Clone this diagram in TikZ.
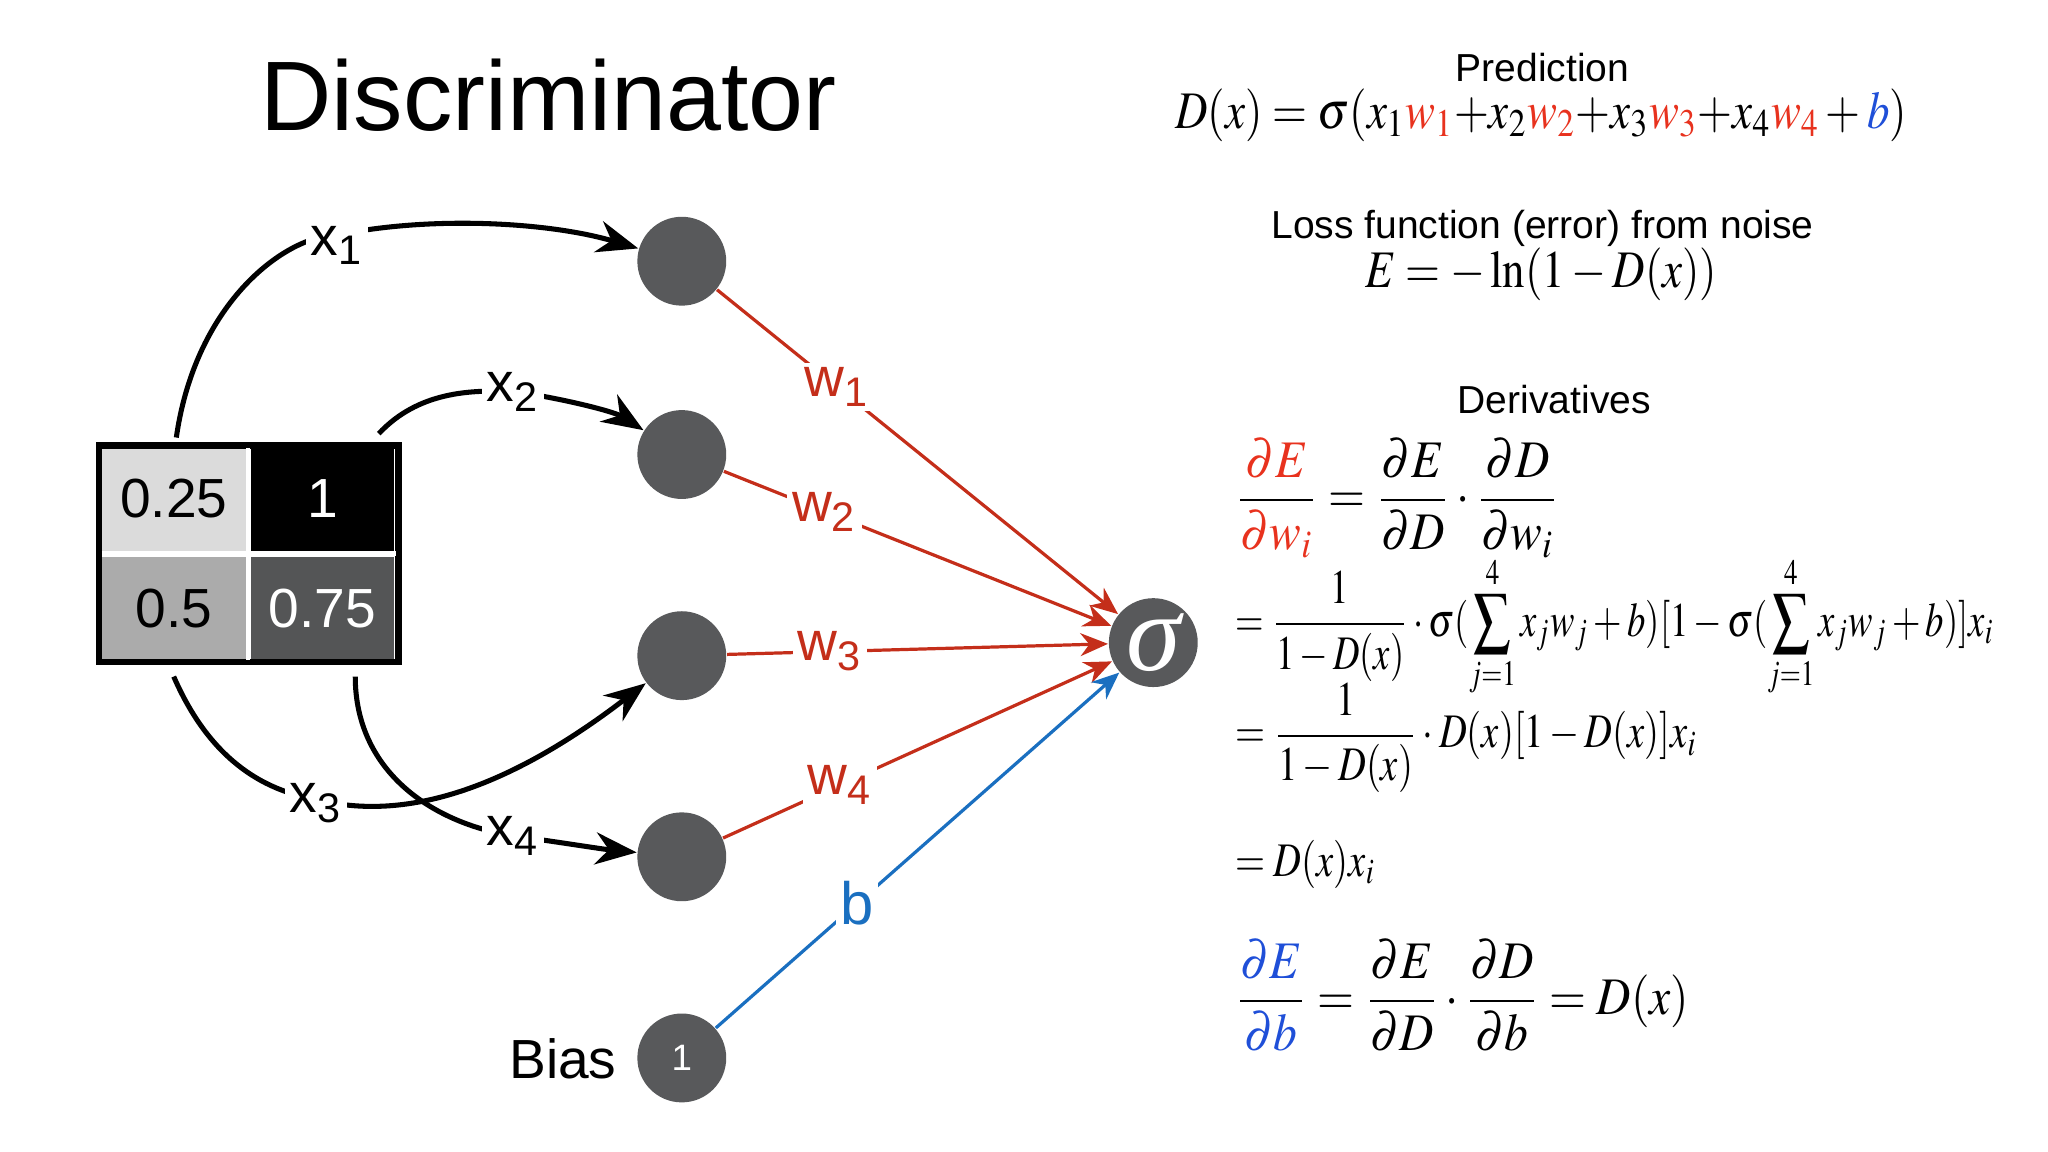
\documentclass[tikz,border=0pt]{standalone}
\usepackage{amsmath}
\usepackage{graphicx}
\usepackage{mathptmx}
\usepackage[no-math]{fontspec}
\setmainfont{Liberation Sans}
\newfontfamily\serifit{Liberation Serif}
\usetikzlibrary{arrows.meta}
\definecolor{nodegray}{HTML}{58595B}
\definecolor{wred}{HTML}{C42E1A}
\definecolor{ered}{HTML}{E8321E}
\definecolor{bblue}{HTML}{1A6FC0}
\definecolor{eblue}{HTML}{1F4FD8}
\newcommand{\cond}[2][0.85]{\scalebox{#1}[1]{#2}}
\begin{document}
\begin{tikzpicture}[x=0.01cm,y=-0.01cm,
  neuron/.style={circle,fill=nodegray,minimum size=0.68cm,inner sep=0pt,text=white},
  cell/.style={minimum width=1.1cm,minimum height=0.79cm,inner sep=0pt,font=\fontsize{12}{14}\selectfont},
  inlab/.style={fill=white,inner sep=1pt,font=\fontsize{12}{14}\selectfont},
  wlab/.style={fill=white,inner sep=1pt,text=wred,font=\fontsize{12}{14}\selectfont},
  xarr/.style={line width=1.1pt,-{Stealth[length=9pt,width=7pt]}},
  warr/.style={wred,line width=0.7pt,-{Stealth[length=6pt,width=5pt]}},
  eq/.style={font=\fontsize{11.5}{13}\selectfont,anchor=west,inner sep=0pt},
  eqs/.style={font=\fontsize{10.5}{12}\selectfont,anchor=west,inner sep=0pt}]
\useasboundingbox (0,0) rectangle (1568,882);
% title
\node (title) at (420,73) {\fontsize{21.5}{24}\selectfont Discriminator};
% grid
\node[cell,fill=black!14] (c1) at (133,382) {0.25};
\node[cell,fill=black,text=white] (c2) at (247,382) {1};
\node[cell,fill=black!33] (c3) at (133,466) {0.5};
\node[cell,fill=nodegray!95!black,text=white] (c4) at (247,466) {0.75};
\draw[line width=1.4pt] (76,341) rectangle (305,507);
\draw[white,line width=1pt] (190,343) -- (190,505) (78,424) -- (303,424);
% neurons
\node[neuron] (n1) at (522,200) {};
\node[neuron] (n2) at (522,348) {};
\node[neuron] (n3) at (522,502) {};
\node[neuron] (n4) at (522,656) {};
\node[neuron,font=\fontsize{8}{9}\selectfont] (bias) at (522,810) {1};
\node[neuron,font=\fontsize{24}{24}\serifit\itshape] (sig) at (883,492) {σ};
\node[font=\fontsize{12}{14}\selectfont] (biaslab) at (431,811) {Bias};
% input curves
\coordinate (s1) at (135,335);
\coordinate (s2) at (290,332);
\coordinate (s3) at (133,518);
\coordinate (s4) at (272,518);
\draw[xarr] (s1) .. controls (150,230) and (220,180) .. (258,180) .. controls (330,165) and (420,170) .. (n1);
\node[inlab] at (258,188) {x\textsubscript{1}};
\draw[xarr] (s2) .. controls (320,300) and (360,298) .. (395,300) .. controls (430,305) and (470,315) .. (n2);
\node[inlab] at (393,300) {x\textsubscript{2}};
\draw[xarr] (s3) .. controls (160,580) and (200,605) .. (242,612) .. controls (330,635) and (420,580) .. (n3);
\node[inlab] at (242,615) {x\textsubscript{3}};
\draw[xarr] (s4) .. controls (272,590) and (330,630) .. (393,640) .. controls (430,645) and (460,650) .. (n4);
\node[inlab] at (393,640) {x\textsubscript{4}};
% weights
\draw[warr] (n1) -- (sig) node[wlab,pos=0.3] {w\textsubscript{1}};
\draw[warr] (n2) -- (sig) node[wlab,pos=0.26] {w\textsubscript{2}};
\draw[warr] (n3) -- (sig) node[wlab,pos=0.27] {w\textsubscript{3}};
\draw[warr] (n4) -- (sig) node[wlab,pos=0.3] {w\textsubscript{4}};
\draw[bblue,line width=0.7pt,-{Stealth[length=6pt,width=5pt]}] (bias) -- (sig) node[pos=0.35,fill=white,inner sep=1pt,text=bblue,font=\fontsize{13}{15}\selectfont] {b};
% equations
\node[font=\fontsize{8.5}{10}\selectfont] (pred) at (1181,52) {Prediction};
\node[font=\fontsize{11.5}{13}\selectfont] (predeq) at (1180,88) {\cond{$D(x)=\sigma(x_1{\color{ered}w_1}{+}x_2{\color{ered}w_2}{+}x_3{\color{ered}w_3}{+}x_4{\color{ered}w_4}+{\color{eblue}b})$}};
\node[font=\fontsize{8.5}{10}\selectfont] (loss) at (1181,175) {Loss function (error) from noise};
\node[font=\fontsize{11.5}{13}\selectfont] (losseq) at (1180,210) {\cond{$E=-\ln(1-D(x))$}};
\node[font=\fontsize{8.5}{10}\selectfont] (der) at (1190,306) {Derivatives};
\node[eq] (d1) at (945,381) {\cond[0.9]{$\dfrac{\color{ered}\partial E}{\color{ered}\partial w_i}=\dfrac{\partial E}{\partial D}\cdot\dfrac{\partial D}{\partial w_i}$}};
\node[eqs] (d2) at (945,480) {\cond[0.76]{$=\dfrac{1}{1-D(x)}\cdot\sigma(\displaystyle\sum_{j=1}^{4}x_jw_j+b)[1-\sigma(\sum_{j=1}^{4}x_jw_j+b)]x_i$}};
\node[eqs] (d3) at (945,565) {\cond[0.8]{$=\dfrac{1}{1-D(x)}\cdot D(x)[1-D(x)]x_i$}};
\node[eqs] (d4) at (945,662) {\cond[0.8]{$=D(x)x_i$}};
\node[eq] (d5) at (945,762) {\cond[0.9]{$\dfrac{\color{eblue}\partial E}{\color{eblue}\partial b}=\dfrac{\partial E}{\partial D}\cdot\dfrac{\partial D}{\partial b}=D(x)$}};
\end{tikzpicture}
\end{document}
